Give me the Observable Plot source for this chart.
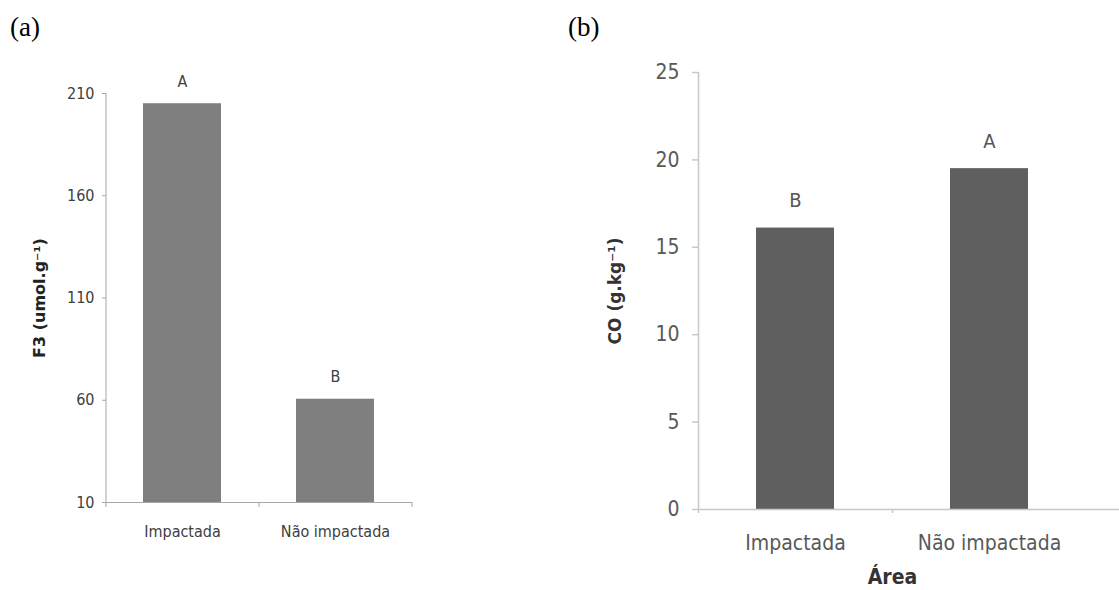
<!DOCTYPE html>
<html><head><meta charset="utf-8">
<script src="https://cdn.jsdelivr.net/npm/d3@7"></script>
<script src="https://cdn.jsdelivr.net/npm/@observablehq/plot@0.6"></script>
<style>
body{margin:0;background:#fff;}
#wrap{position:relative;width:1119px;height:590px;overflow:hidden;background:#fff;}
.tag{position:absolute;top:14px;font-family:"Liberation Serif","Times New Roman",serif;font-size:27px;color:#000;line-height:1;}
.panel{position:absolute;top:0;}
</style></head><body>
<div id="wrap">
<div class="tag" style="left:10px">(a)</div>
<div class="tag" style="left:568px">(b)</div>
<div id="pa" class="panel" style="left:0px"></div>
<div id="pb" class="panel" style="left:560px"></div>
</div>
<script>
const categories = ["Impactada", "Não impactada"];
const f3Values = [205, 60.5];
const f3Letters = ["A", "B"];
const f3Ticks = [10, 60, 110, 160, 210];
const coValues = [16.1, 19.5];
const coLetters = ["B", "A"];
const coTicks = [0, 5, 10, 15, 20, 25];

const narrow = '"Liberation Sans Narrow","DejaVu Sans Condensed","Arial Narrow",sans-serif';
const boldFont = '"DejaVu Sans",Verdana,sans-serif';

const dataA = categories.map((c, i) => ({area: c, value: f3Values[i], letter: f3Letters[i]}));
const dataB = categories.map((c, i) => ({area: c, value: coValues[i], letter: coLetters[i]}));

// Panel (a)
const stepA = 153;
const axA = "#a6a6a6";
const plotA = Plot.plot({
  width: 540, height: 590,
  marginLeft: 106, marginRight: 128, marginTop: 93, marginBottom: 88,
  style: {fontFamily: narrow, fontSize: "16px", color: "#404040", background: "transparent", overflow: "visible"},
  x: {domain: categories, paddingInner: 0.49, paddingOuter: 0.245, align: 0.5},
  y: {domain: [10, 210]},
  marks: [
    Plot.barY(dataA, {x: "area", y1: 10, y2: "value", fill: "#7f7f7f"}),
    Plot.ruleY([10], {stroke: axA}),
    Plot.ruleX([categories[0]], {y1: 10, y2: 210, dx: -stepA / 2, stroke: axA}),
    Plot.ruleX(categories, {y1: 10, y2: 10, insetTop: 5, dx: -stepA / 2, stroke: axA}),
    Plot.ruleX([categories[categories.length - 1]], {y1: 10, y2: 10, insetTop: 5, dx: stepA / 2, stroke: axA}),
    Plot.text(dataA, {x: "area", y: "value", text: "letter", dy: -22, fontSize: 16, fill: "#404040"}),
    Plot.axisY({ticks: f3Ticks, tickSize: 4, tickPadding: 8, stroke: axA, label: null}),
    Plot.axisY({ticks: [], label: "F3 (umol.g⁻¹)", labelAnchor: "center", labelArrow: "none", labelOffset: 73,
      fontFamily: boldFont, fontWeight: "bold", fontSize: 16, fill: "#222"}),
    Plot.axisX({tickSize: 0, tickPadding: 23, label: null})
  ]
});
document.getElementById("pa").append(plotA);

// Panel (b)
const stepB = 194;
const axB = "#c8c8c8";
const plotB = Plot.plot({
  width: 559, height: 590,
  marginLeft: 138, marginRight: 33, marginTop: 72, marginBottom: 81,
  style: {fontFamily: narrow, fontSize: "21px", color: "#595959", background: "transparent", overflow: "visible"},
  x: {domain: categories, paddingInner: 0.598, paddingOuter: 0.299, align: 0.5},
  y: {domain: [0, 25]},
  marks: [
    Plot.barY(dataB, {x: "area", y1: 0, y2: "value", fill: "#5f5f5f"}),
    Plot.ruleY([0], {stroke: axB, strokeWidth: 1.5, insetRight: -33}),
    Plot.ruleX([categories[0]], {y1: 0, y2: 25, dx: -stepB / 2, stroke: axB, strokeWidth: 1.5}),
    Plot.ruleX([categories[0]], {y1: 0, y2: 0, insetTop: 4, dx: -stepB / 2, stroke: axB, strokeWidth: 1.5}),
    Plot.ruleX([categories[1]], {y1: 0, y2: 0, insetTop: 4, dx: -stepB / 2, stroke: axB, strokeWidth: 1.5}),
    Plot.text(dataB, {x: "area", y: "value", text: "letter", dy: -27, fontSize: 20, fill: "#555"}),
    Plot.axisY({ticks: coTicks, tickSize: 6, tickPadding: 13, stroke: axB, strokeWidth: 1.5, label: null}),
    Plot.axisY({ticks: [], label: "CO (g.kg⁻¹)", labelAnchor: "center", labelArrow: "none", labelOffset: 90,
      fontFamily: boldFont, fontWeight: "bold", fontSize: 17, fill: "#333"}),
    Plot.axisX({tickSize: 0, tickPadding: 26, label: null}),
    Plot.axisX({ticks: [], label: "Área", labelAnchor: "center", labelArrow: "none", labelOffset: 74,
      fontFamily: narrow, fontWeight: "bold", fontSize: 21, fill: "#333"})
  ]
});
document.getElementById("pb").append(plotB);
</script>
</body></html>
